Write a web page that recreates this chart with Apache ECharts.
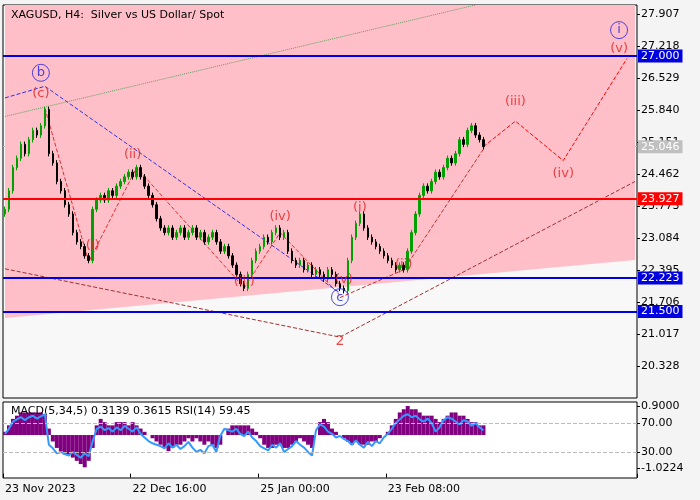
<!DOCTYPE html>
<html><head><meta charset="utf-8">
<script src="https://cdn.jsdelivr.net/npm/echarts@6/dist/echarts.min.js"></script>
<style>html,body{margin:0;background:#f4f4f4}#c{width:700px;height:500px}</style>
</head><body><div id="c"></div>
<script>
const closes=[23.7,24.1,24.6,24.8,25.1,24.9,25.2,25.4,25.3,25.5,25.85,
24.9,24.7,24.3,24.1,23.8,23.6,23.2,23.0,22.9,22.7,22.6,
23.7,23.9,24.0,23.9,24.1,24.0,24.2,24.3,24.4,24.5,24.4,
24.6,24.4,24.2,24.0,23.8,23.5,23.3,23.2,23.3,23.1,23.2,
23.3,23.1,23.2,23.3,23.1,23.2,23.0,23.1,23.2,23.0,22.8,
22.9,22.7,22.5,22.3,22.1,22.0,22.3,22.6,22.8,22.9,23.1,
23.0,23.2,23.3,23.1,23.2,22.8,22.6,22.5,22.6,22.4,22.5,
22.3,22.4,22.3,22.2,22.4,22.3,22.1,22.0,21.95,22.6,23.1,
23.4,23.6,23.3,23.1,23.0,22.9,22.8,22.7,22.6,22.5,22.4,
22.5,22.4,22.8,23.2,23.6,24.0,24.2,24.1,24.3,24.5,24.4,
24.6,24.8,24.7,24.9,25.2,25.1,25.4,25.5,25.3,25.2,25.05];
const macd=[0.1,0.3,0.5,0.6,0.7,0.7,0.7,0.7,0.7,0.7,0.6,
0.2,-0.2,-0.4,-0.5,-0.6,-0.6,-0.7,-0.8,-0.9,-1.0,-0.8,-0.4,
0.3,0.5,0.4,0.3,0.3,0.4,0.4,0.4,0.3,0.4,0.3,0.2,0.1,0.0,-0.1,-0.2,
-0.3,-0.4,-0.5,-0.4,-0.3,-0.3,-0.2,-0.1,-0.2,-0.1,-0.2,-0.3,-0.2,-0.3,-0.4,-0.3,0.0,0.2,0.3,0.3,0.3,0.3,
0.3,0.2,0.1,-0.1,-0.3,-0.4,-0.4,-0.3,-0.3,-0.4,-0.4,-0.3,-0.2,-0.1,-0.2,-0.3,
-0.4,0.0,0.4,0.5,0.4,0.2,0.1,0.0,-0.1,-0.2,-0.3,-0.2,-0.3,-0.3,-0.3,-0.2,-0.2,-0.1,0.0,0.1,0.3,0.5,
0.7,0.8,0.9,0.8,0.8,0.7,0.6,0.6,0.6,0.5,0.4,0.5,0.6,0.7,0.7,0.6,0.6,0.5,0.4,0.4,0.3,0.3];
const rsi=[55,62,72,75,78,74,78,80,76,79,82,
40,35,28,30,27,25,30,26,22,28,24,45,
62,65,60,63,58,64,60,66,62,58,64,55,50,45,42,40,
38,35,42,36,40,34,38,44,36,30,33,28,38,40,30,52,62,60,58,62,55,52,
58,50,45,38,35,32,40,36,42,30,34,38,45,40,36,30,
25,60,68,65,58,55,50,52,48,45,40,46,40,36,44,38,45,42,50,55,62,70,
75,80,82,78,80,75,72,76,70,58,64,74,78,76,72,68,74,72,66,70,64,60];
const nCats=159;
const tickLabels={0:'23 Nov 2023',32:'22 Dec 16:00',64:'25 Jan 00:00',96:'23 Feb 08:00'};
const priceTicks=[20.328,21.017,21.706,22.395,23.084,23.773,24.462,25.151,25.840,26.529,27.218,27.907];
const levels=[[27.0,'#0000e0'],[23.927,'#ff0000'],[22.223,'#0000e0'],[21.5,'#0000e0']];
const pinkEdge=[[0,21.36],[158,22.61]];
const redLabels=[[9,26.2,'(c)'],[32,24.87,'(ii)'],[22,22.93,'(i)'],[60,22.14,'(iii)'],[69,23.54,'(iv)'],[85,22.18,'(v)'],[89,23.73,'(i)'],[100,22.5,'(ii)'],[128,26.03,'(iii)'],[140,24.48,'(iv)'],[154,27.17,'(v)']];
const blueLabels=[[9,26.64,'b'],[84,21.81,'c'],[154,27.56,'i']];
const waveTwo=[[84,20.85,'2']];
const forecast=[[120,25.05],[128,25.6],[140,24.75],[156,26.95]];
const waveLines=[[10,25.88],[21,22.57],[33,24.6],[60,22.01],[69,23.2],[84,21.85]];
const blueLine=[[0,26.1],[10,26.35],[84,21.9]];
const channel=[[0,22.42],[84,20.95],[158,24.3]];
const upper=[[0,25.7],[118,28.1]];
const lowerUp=[[84,21.8],[100,22.4],[120,25.0]];

const cats=[];for(let i=0;i<nCats;i++)cats.push(tickLabels[i]||'');
const candles=closes.map((c,i)=>{const o=i?closes[i-1]:c-0.1;return [o,c,Math.min(o,c)-0.06,Math.max(o,c)+0.06];});
const font='Tahoma, DejaVu Sans, sans-serif';
const dl=(data,color,type)=>({type:'line',data,symbol:'none',silent:true,lineStyle:{color,width:1,type},xAxisIndex:0,yAxisIndex:0,z:3});
const chart=echarts.init(document.getElementById('c'));
chart.setOption({
 animation:false,backgroundColor:'#f4f4f4',
 textStyle:{fontFamily:font},
 title:[{text:'XAGUSD, H4:  Silver vs US Dollar/ Spot',left:6,top:5,textStyle:{fontSize:11,fontWeight:'normal',color:'#000',fontFamily:font}},
        {text:'MACD(5,34,5) 0.3139 0.3615 RSI(14) 59.45',left:6,top:401,textStyle:{fontSize:11,fontWeight:'normal',color:'#000',fontFamily:font}}],
 grid:[{left:3,right:63,top:5,height:393,backgroundColor:'#f8f8f8',show:true,borderColor:'#000'},
       {left:3,right:63,top:402,height:76,backgroundColor:'#ffffff',show:true,borderColor:'#000'}],
 xAxis:[{type:'category',data:cats,gridIndex:0,boundaryGap:true,axisLine:{show:false},axisTick:{show:false},axisLabel:{show:false}},
        {type:'category',data:cats,gridIndex:1,boundaryGap:true,axisLine:{show:false},
         axisTick:{show:true,interval:(i,v)=>v!=='',length:4,inside:false,lineStyle:{color:'#000'}},
         axisLabel:{interval:(i,v)=>v!=='',align:'left',fontSize:11,color:'#000',margin:6,fontFamily:font}}],
 yAxis:[{type:'value',gridIndex:0,position:'right',min:19.639,max:28.1,splitLine:{show:false},axisLine:{show:false},
         axisTick:{show:true,customValues:priceTicks,length:3,lineStyle:{color:'#000'}},
         axisLabel:{customValues:priceTicks,formatter:v=>v.toFixed(3),fontSize:11,color:'#000',margin:4,fontFamily:font}},
        {type:'value',gridIndex:1,position:'right',min:-6,max:99,splitLine:{show:false},axisLine:{show:false},
         axisTick:{show:true,customValues:[30,70],length:3,lineStyle:{color:'#000'}},
         axisLabel:{customValues:[30,70],formatter:v=>v.toFixed(2),fontSize:11,color:'#000',margin:4,fontFamily:font}},
        {type:'value',gridIndex:1,position:'right',min:-1.332,max:1.024,splitLine:{show:false},axisLine:{show:false},
         axisTick:{show:true,customValues:[-1.0224,0.9],length:3,lineStyle:{color:'#000'}},
         axisLabel:{customValues:[-1.0224,0.9],formatter:v=>v.toFixed(4),fontSize:11,color:'#000',margin:4,fontFamily:font}}],
 series:[
  {type:'line',data:pinkEdge,symbol:'none',silent:true,lineStyle:{width:0},areaStyle:{origin:'end',color:'#ffbfc8',opacity:1},z:1,
   markLine:{symbol:'none',silent:true,z:1,data:[{yAxis:25.046,lineStyle:{color:'#c0c0c0',width:1,type:'solid'},
     label:{position:'end',formatter:'25.046',color:'#fff',backgroundColor:'#c0c0c0',padding:[1,3],fontSize:11,distance:1}}]}},
  {type:'candlestick',data:candles,barWidth:2,itemStyle:{color:'#00a000',color0:'#000',borderColor:'#00a000',borderColor0:'#000'},z:4,
   markLine:{symbol:'none',silent:true,data:levels.map(l=>({yAxis:l[0],lineStyle:{color:l[1],width:2,type:'solid'},
     label:{position:'end',formatter:l[0].toFixed(3),color:'#fff',backgroundColor:l[1],padding:[1,3],fontSize:11,distance:1}}))}},
  dl(forecast,'#ff0000','dashed'),
  dl(waveLines,'#e03030','dashed'),
  dl(blueLine,'#3030e0','dashed'),
  dl(channel,'#a03030','dashed'),
  dl(upper,'#60a060','dotted'),
  dl(lowerUp,'#c03030','dashed'),
  {type:'scatter',data:redLabels,symbolSize:1,itemStyle:{color:'rgba(0,0,0,0)'},z:6,label:{show:true,position:'inside',formatter:p=>p.data[2],color:'#e02020',fontSize:13,fontFamily:font}},
  {type:'scatter',data:waveTwo,symbolSize:1,itemStyle:{color:'rgba(0,0,0,0)'},z:6,label:{show:true,position:'inside',formatter:p=>p.data[2],color:'#e02020',fontSize:14,fontFamily:font}},
  {type:'scatter',data:blueLabels,symbol:'circle',symbolSize:17,itemStyle:{color:'rgba(0,0,0,0)',borderColor:'#2020e0',borderWidth:1},z:6,label:{show:true,position:'inside',formatter:p=>p.data[2],color:'#2020e0',fontSize:13,fontFamily:font}},
  {type:'bar',data:macd,xAxisIndex:1,yAxisIndex:2,barWidth:'100%',itemStyle:{color:'#800080'},silent:true},
  {type:'line',data:rsi,xAxisIndex:1,yAxisIndex:1,symbol:'none',lineStyle:{color:'#3399ff',width:2},silent:true,
   markLine:{symbol:'none',silent:true,label:{show:false},lineStyle:{color:'#bbb',type:'dashed',width:1},data:[{yAxis:30},{yAxis:70}]}}
 ]
});
</script></body></html>
